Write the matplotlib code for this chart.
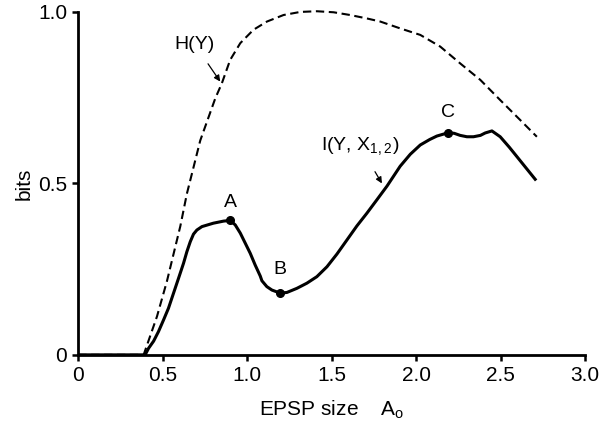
import numpy as np
import matplotlib
matplotlib.use('Agg')
import matplotlib.pyplot as plt

# H(Y), dashed curve
h_x = [0.0, 0.387, 0.466, 0.525, 0.604, 0.643, 0.722, 0.811, 0.850, 0.899, 0.959,
       1.037, 1.117, 1.215, 1.314, 1.412, 1.511, 1.609, 1.708, 1.787, 1.905, 2.024,
       2.142, 2.260, 2.379, 2.497, 2.615, 2.714]
h_y = [0.0, 0.0, 0.112, 0.215, 0.375, 0.47, 0.625, 0.748, 0.792, 0.860, 0.909,
       0.948, 0.972, 0.991, 1.0, 1.002, 0.999, 0.991, 0.981, 0.972, 0.952, 0.933,
       0.899, 0.850, 0.802, 0.743, 0.685, 0.636]

# I(Y, X_1,2), solid curve
i_x = [0.0, 0.396, 0.416, 0.446, 0.475, 0.505, 0.534, 0.564, 0.594, 0.623, 0.643,
       0.663, 0.682, 0.702, 0.732, 0.80, 0.860, 0.899, 0.929, 0.959, 0.988, 1.018,
       1.047, 1.077, 1.087, 1.116, 1.146, 1.195, 1.235, 1.294, 1.353, 1.412, 1.472,
       1.531, 1.590, 1.649, 1.708, 1.767, 1.827, 1.905, 1.965, 2.024, 2.080, 2.122,
       2.191, 2.225, 2.260, 2.300, 2.339, 2.380, 2.408, 2.448, 2.497, 2.550, 2.596,
       2.650, 2.704]
i_y = [0.0, 0.0, 0.019, 0.040, 0.068, 0.102, 0.136, 0.18, 0.224, 0.267, 0.301,
       0.330, 0.352, 0.364, 0.374, 0.384, 0.390, 0.392, 0.379, 0.355, 0.326, 0.296,
       0.262, 0.230, 0.216, 0.199, 0.189, 0.18, 0.182, 0.194, 0.209, 0.228, 0.257,
       0.294, 0.335, 0.376, 0.413, 0.452, 0.492, 0.550, 0.585, 0.612, 0.628, 0.638,
       0.648, 0.646, 0.640, 0.636, 0.636, 0.640, 0.647, 0.653, 0.636, 0.606, 0.578,
       0.545, 0.512]

# marked points
pt_labels = ['A', 'B', 'C']
pt_x = [0.899, 1.195, 2.191]
pt_y = [0.392, 0.18, 0.648]

x_ticks = [0, 0.5, 1.0, 1.5, 2.0, 2.5, 3.0]
x_ticklabels = ['0', '0.5', '1.0', '1.5', '2.0', '2.5', '3.0']
y_ticks = [0, 0.5, 1.0]
y_ticklabels = ['0', '0.5', '1.0']

plt.rcParams['font.family'] = ['Liberation Sans', 'DejaVu Sans']
plt.rcParams['mathtext.fontset'] = 'custom'
plt.rcParams['mathtext.rm'] = 'Liberation Sans'

fig = plt.figure(figsize=(6.16, 4.26), dpi=100)
ax = fig.add_axes([0.127, 0.167, 0.823, 0.805])

ax.plot(h_x, h_y, color='black', linestyle=(0, (4, 2.2)), linewidth=1.5,
        solid_joinstyle='round', clip_on=False)
ax.plot(i_x, i_y, color='black', linewidth=2.2, solid_joinstyle='round')
ax.plot(pt_x, pt_y, 'o', color='black', markersize=5.5)

offsets = [0.052, 0.068, 0.058]
for lab, px, py, off in zip(pt_labels, pt_x, pt_y, offsets):
    ax.text(px, py + off, lab, fontsize=14, ha='center', va='center')

ax.annotate('H(Y)', xy=(0.84, 0.797), xytext=(0.69, 0.905),
            fontsize=14, ha='center', va='center',
            arrowprops=dict(arrowstyle='-|>', color='black', lw=0.9,
                            shrinkA=7, shrinkB=0, mutation_scale=9))
ax.annotate(r'I(Y, X$_{1,2}$)', xy=(1.797, 0.50), xytext=(1.67, 0.606),
            fontsize=14, ha='center', va='center',
            arrowprops=dict(arrowstyle='-|>', color='black', lw=0.9,
                            shrinkA=9, shrinkB=0, mutation_scale=9))

ax.set_xlim(0, 3.0)
ax.set_ylim(0, 1.0)
ax.set_xticks(x_ticks)
ax.set_xticklabels(x_ticklabels)
ax.set_yticks(y_ticks)
ax.set_yticklabels(y_ticklabels)
ax.tick_params(direction='out', length=4, width=1.8, labelsize=15, pad=4)

for side in ['top', 'right']:
    ax.spines[side].set_visible(False)
for side in ['left', 'bottom']:
    ax.spines[side].set_linewidth(2.0)

ax.set_xlabel(r'EPSP size    A$_\mathrm{o}$', fontsize=15, labelpad=10)
ax.set_ylabel('bits', fontsize=15, labelpad=3)

fig.savefig('out.png', dpi=100)
